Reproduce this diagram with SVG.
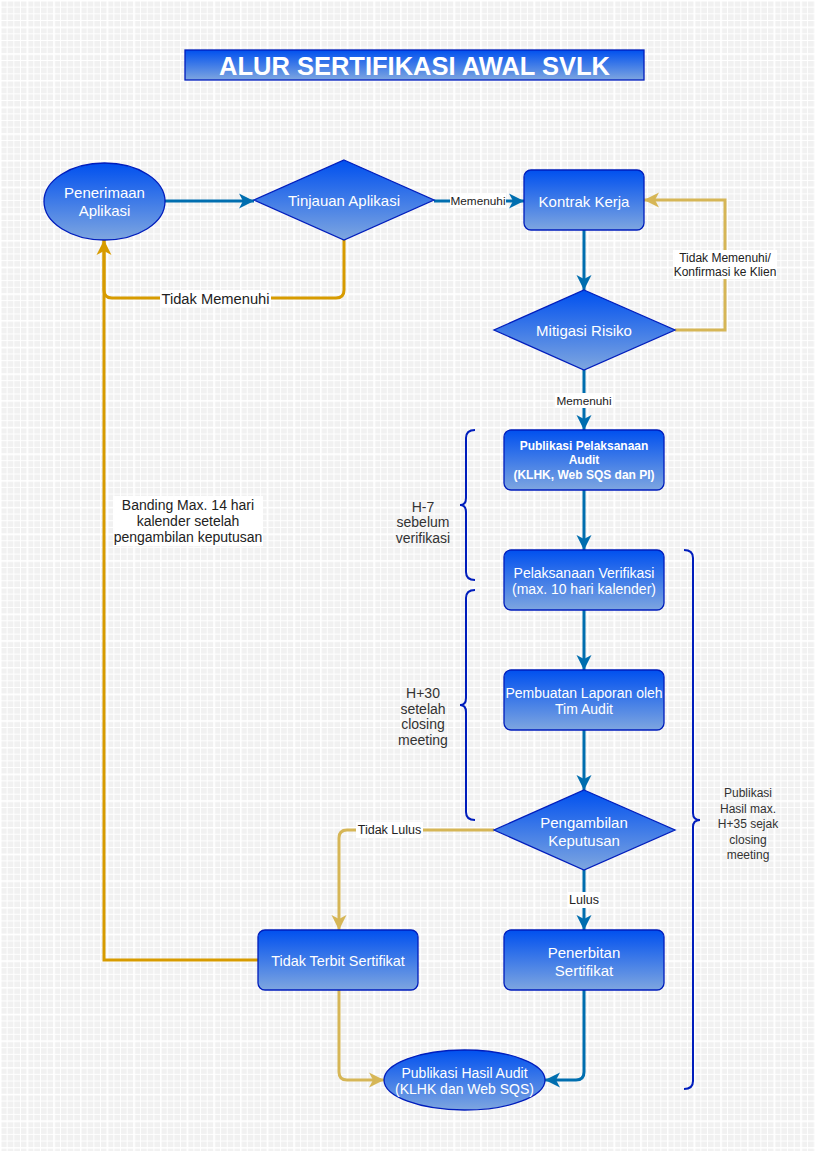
<svg xmlns="http://www.w3.org/2000/svg" width="815" height="1151" viewBox="0 0 815 1151">
<defs>
<pattern id="grid" width="6.67" height="6.67" patternUnits="userSpaceOnUse">
<rect width="6.67" height="6.67" fill="#f1f1f1"/>
<path d="M0,0.5 H6.67 M0.5,0 V6.67" stroke="#ffffff" stroke-width="1" fill="none"/>
</pattern>
<pattern id="grid2" width="26.68" height="26.68" patternUnits="userSpaceOnUse">
<path d="M0,0.75 H26.68 M0.75,0 V26.68" stroke="#ffffff" stroke-width="1.5" fill="none"/>
</pattern>
<linearGradient id="g" x1="0" y1="0" x2="0" y2="1">
<stop offset="0" stop-color="#0050ef"/>
<stop offset="1" stop-color="#7ea6e0"/>
</linearGradient>
<marker id="ab" markerUnits="userSpaceOnUse" markerWidth="16" markerHeight="16" viewBox="0 0 16 16" refX="15" refY="8" orient="auto">
<path d="M0,0.5 L15,8 L0,15.5 L4,8 z" fill="#006EAF"/>
</marker>
<marker id="at" markerUnits="userSpaceOnUse" markerWidth="16" markerHeight="16" viewBox="0 0 16 16" refX="15" refY="8" orient="auto">
<path d="M0,0.5 L15,8 L0,15.5 L4,8 z" fill="#D6B656"/>
</marker>
<marker id="ao" markerUnits="userSpaceOnUse" markerWidth="16" markerHeight="16" viewBox="0 0 16 16" refX="15" refY="8" orient="auto">
<path d="M0,0.5 L15,8 L0,15.5 L4,8 z" fill="#D79B00"/>
</marker>
</defs>
<style>
.n{fill:url(#g);stroke:#001DBC;stroke-width:1.3}
.t{font-family:"Liberation Sans",Arial,sans-serif;fill:#ffffff;text-anchor:middle;dominant-baseline:central}
.b{stroke:#006EAF;stroke-width:3;fill:none;marker-end:url(#ab)}
.tn{stroke:#D6B656;stroke-width:3;fill:none}
.or{stroke:#D79B00;stroke-width:3;fill:none}
.lb{font-family:"Liberation Sans",Arial,sans-serif;fill:#222222;text-anchor:middle;dominant-baseline:central}
.bg{fill:#ffffff}
.br{stroke:#001DBC;stroke-width:2;fill:none}
.ann{font-family:"Liberation Sans",Arial,sans-serif;fill:#333333;text-anchor:middle;dominant-baseline:central}
</style>
<rect width="815" height="1151" fill="url(#grid)"/>
<rect width="815" height="1151" fill="url(#grid2)"/>

<g id="title">
<rect x="185" y="50" width="459" height="30" class="n" stroke-width="1.5"/>
<text x="414.5" y="65.5" class="t" font-size="25.5" font-weight="bold">ALUR SERTIFIKASI AWAL SVLK</text>
</g>

<g id="connectors">
<path class="b" d="M165,201 L254,201"/>
<path class="b" d="M434,201 L524,201"/>
<rect x="450" y="193" width="56" height="15" class="bg"/>
<text x="478" y="200.5" class="lb" font-size="11.8">Memenuhi</text>
<path class="b" d="M584,230 L584,290"/>
<path class="tn" d="M675,330 L725,330 L725,200 L644,200" marker-end="url(#at)"/>
<rect x="673" y="250" width="104" height="29" class="bg"/>
<text x="725" y="257.5" class="lb" font-size="12">Tidak Memenuhi/</text>
<text x="725" y="271.5" class="lb" font-size="12">Konfirmasi ke Klien</text>
<path class="or" d="M344,240 L344,290 Q344,298 336,298 L112,298 Q104,298 104,290 L104,240" marker-end="url(#ao)"/>
<rect x="160" y="290" width="111" height="17" class="bg"/>
<text x="215.5" y="298.5" class="lb" font-size="14.7">Tidak Memenuhi</text>
<path class="or" d="M258,960 L104,960 L104,240"/>
<rect x="113" y="496" width="150" height="50" class="bg"/>
<text x="188" y="505" class="lb" font-size="14">Banding Max. 14 hari</text>
<text x="188" y="521" class="lb" font-size="14">kalender setelah</text>
<text x="188" y="537" class="lb" font-size="14">pengambilan keputusan</text>
<path class="b" d="M584,370 L584,430"/>
<rect x="555" y="393" width="58" height="15" class="bg"/>
<text x="584" y="400.5" class="lb" font-size="11.8">Memenuhi</text>
<path class="b" d="M584,490 L584,550"/>
<path class="b" d="M584,610 L584,670"/>
<path class="b" d="M584,730 L584,790"/>
<path class="tn" d="M494,830 L347,830 Q339,830 339,838 L339,930" marker-end="url(#at)"/>
<rect x="356" y="822" width="67" height="16" class="bg"/>
<text x="389.5" y="830" class="lb" font-size="12.5">Tidak Lulus</text>
<path class="b" d="M584,870 L584,930"/>
<rect x="568" y="892" width="32" height="16" class="bg"/>
<text x="584" y="900" class="lb" font-size="12.5">Lulus</text>
<path class="tn" d="M339,990 L339,1072 Q339,1080 347,1080 L384,1080" marker-end="url(#at)"/>
<path class="b" d="M584,990 L584,1072 Q584,1080 576,1080 L545,1080"/>
</g>

<g id="braces">
<path class="br" d="M475,430 Q466,430 466,438 L466,498 Q466,505 460,505 Q466,505 466,512 L466,572 Q466,580 475,580"/>
<path class="br" d="M475,590 Q466,590 466,598 L466,698 Q466,705 460,705 Q466,705 466,712 L466,812 Q466,820 475,820"/>
<path class="br" d="M684,550 Q693,550 693,558 L693,813 Q693,820 700,820 Q693,820 693,827 L693,1081 Q693,1089 684,1089"/>
</g>

<g id="ann-h7">
<text x="423" y="506.5" class="ann" font-size="14">H-7</text>
<text x="423" y="522" class="ann" font-size="14">sebelum</text>
<text x="423" y="537.5" class="ann" font-size="14">verifikasi</text>
</g>
<g id="ann-h30">
<text x="423" y="693" class="ann" font-size="14">H+30</text>
<text x="423" y="708.5" class="ann" font-size="14">setelah</text>
<text x="423" y="724" class="ann" font-size="14">closing</text>
<text x="423" y="739.5" class="ann" font-size="14">meeting</text>
</g>
<g id="ann-h35">
<text x="748" y="793" class="ann" font-size="12">Publikasi</text>
<text x="748" y="808.5" class="ann" font-size="12">Hasil max.</text>
<text x="748" y="824" class="ann" font-size="12">H+35 sejak</text>
<text x="748" y="839.5" class="ann" font-size="12">closing</text>
<text x="748" y="855" class="ann" font-size="12">meeting</text>
</g>

<g id="penerimaan">
<ellipse cx="104.5" cy="201.5" rx="60.5" ry="38.5" class="n"/>
<text x="104.5" y="192.5" class="t" font-size="15">Penerimaan</text>
<text x="104.5" y="210.5" class="t" font-size="15">Aplikasi</text>
</g>
<g id="tinjauan">
<polygon points="344,160 434,200 344,240 254,200" class="n"/>
<text x="344" y="200.5" class="t" font-size="15">Tinjauan Aplikasi</text>
</g>
<g id="kontrak">
<rect x="524" y="170" width="120" height="60" rx="7" class="n"/>
<text x="584" y="201" class="t" font-size="15">Kontrak Kerja</text>
</g>
<g id="mitigasi">
<polygon points="584,290 675,330 584,370 494,330" class="n"/>
<text x="584" y="330.5" class="t" font-size="15">Mitigasi Risiko</text>
</g>
<g id="publikasi-pelaksanaan">
<rect x="504" y="430" width="160" height="60" rx="7" class="n"/>
<text x="584" y="445.5" class="t" font-size="12" font-weight="bold">Publikasi Pelaksanaan</text>
<text x="584" y="460" class="t" font-size="12" font-weight="bold">Audit</text>
<text x="584" y="474.5" class="t" font-size="12" font-weight="bold">(KLHK, Web SQS dan PI)</text>
</g>
<g id="pelaksanaan-verifikasi">
<rect x="504" y="550" width="160" height="60" rx="7" class="n"/>
<text x="584" y="573" class="t" font-size="14">Pelaksanaan Verifikasi</text>
<text x="584" y="589" class="t" font-size="14">(max. 10 hari kalender)</text>
</g>
<g id="pembuatan-laporan">
<rect x="504" y="670" width="160" height="60" rx="7" class="n"/>
<text x="584" y="693" class="t" font-size="14">Pembuatan Laporan oleh</text>
<text x="584" y="709" class="t" font-size="14">Tim Audit</text>
</g>
<g id="pengambilan">
<polygon points="584,790 675,830 584,870 494,830" class="n"/>
<text x="584" y="822" class="t" font-size="15">Pengambilan</text>
<text x="584" y="840" class="t" font-size="15">Keputusan</text>
</g>
<g id="tidak-terbit">
<rect x="258" y="930" width="160" height="60" rx="7" class="n"/>
<text x="338" y="960.5" class="t" font-size="14.4">Tidak Terbit Sertifikat</text>
</g>
<g id="penerbitan">
<rect x="504" y="930" width="160" height="60" rx="7" class="n"/>
<text x="584" y="952" class="t" font-size="15">Penerbitan</text>
<text x="584" y="970" class="t" font-size="15">Sertifikat</text>
</g>
<g id="publikasi-hasil">
<ellipse cx="464.5" cy="1080" rx="80.5" ry="30" class="n"/>
<text x="464.5" y="1072.5" class="t" font-size="14">Publikasi Hasil Audit</text>
<text x="464.5" y="1089" class="t" font-size="14">(KLHK dan Web SQS)</text>
</g>
</svg>
